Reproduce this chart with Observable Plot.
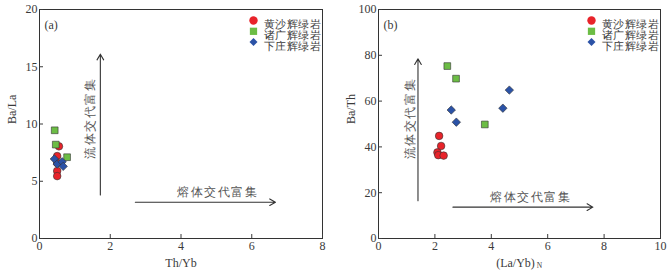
<!DOCTYPE html>
<html><head><meta charset="utf-8">
<script src="https://cdn.jsdelivr.net/npm/d3@7"></script>
<script src="https://cdn.jsdelivr.net/npm/@observablehq/plot@0.6"></script>
<style>
body{margin:0;background:#fff;}
#wrap{display:flex;width:669px;height:275px;}
svg text{font-family:"Liberation Serif",serif;}
</style></head>
<body><div id="wrap"></div>
<script>
// Legend / series names
const seriesNames = ["黄沙辉绿岩", "诸广辉绿岩", "下庄辉绿岩"];
const seriesColors = ["#e8232a", "#6cbd45", "#2b52a6"];
const seriesSymbols = ["circle", "square", "diamond2"];

// Panel (a): Th/Yb vs Ba/La
const aHuangsha = [[0.55, 8.05], [0.5, 7.2], [0.5, 6.6], [0.5, 5.9], [0.5, 5.45]];
const aZhuguang = [[0.43, 9.45], [0.46, 8.2], [0.78, 7.1]];
const aXiazhuang = [[0.42, 6.95], [0.5, 6.5], [0.64, 6.7], [0.67, 6.3]];

// Panel (b): (La/Yb)N vs Ba/Th
const bHuangsha = [[2.15, 44.8], [2.22, 40.4], [2.09, 37.6], [2.12, 36.4], [2.31, 36.2]];
const bZhuguang = [[2.44, 75.3], [2.75, 69.8], [3.77, 49.8]];
const bXiazhuang = [[2.58, 56.1], [2.76, 50.8], [4.41, 56.9], [4.64, 64.8]];

// Ticks
const aXTicks = [0, 2, 4, 6, 8];
const aYTicks = [0, 5, 10, 15, 20];
const bXTicks = [0, 2, 4, 6, 8, 10];
const bYTicks = [0, 20, 40, 60, 80, 100];

// Annotation arrows [x1,y1,x2,y2] and labels
const aArrows = [[1.72, 3.8, 1.72, 16.1], [2.71, 3.17, 6.67, 3.17]];
const aLabels = [{x: 1.44, y: 10.5, text: "流体交代富集", rotate: -90}, {x: 5.04, y: 4.05, text: "熔体交代富集", rotate: 0}];
const bArrows = [[1.4, 16.5, 1.4, 78.5], [2.64, 13.7, 7.6, 13.7]];
const bLabels = [{x: 1.14, y: 52.4, text: "流体交代富集", rotate: -90}, {x: 5.4, y: 18.0, text: "熔体交代富集", rotate: 0}];

const cjk = "'Noto Sans CJK SC', sans-serif";
const ink = "#3a3a3a";

function toRows(groups) {
  const rows = [];
  groups.forEach((g, i) => g.forEach(([x, y]) => rows.push({x, y, s: seriesNames[i]})));
  return rows;
}

function panel({width, ml, mr, xDomain, yDomain, xTicks, yTicks, groups, arrows, labels, tag, ylabel, xlabelMarks}) {
  const rows = toRows(groups);
  const legendMarks = [];
  const legendR = [4.2, 4.1, 3.6];
  seriesNames.forEach((n, i) => {
    legendMarks.push(Plot.dot([n], {frameAnchor: "top-right", dx: -69, dy: 11 + i * 10.8, r: legendR[i], symbol: seriesSymbols[i], fill: seriesColors[i], stroke: "none"}));
    legendMarks.push(Plot.text([n], {text: d => d, frameAnchor: "top-right", dx: -1, dy: 11 + i * 10.8, fontSize: 11, fill: ink, fontFamily: cjk, textAnchor: "end"}));
  });
  const marks = [
    Plot.frame({stroke: "#333", strokeWidth: 1}),
    Plot.axisX({ticks: xTicks, tickSize: -4, tickPadding: 7, fontSize: 12, label: null, color: ink}),
    Plot.axisY({ticks: yTicks, tickSize: -4, tickPadding: 6, fontSize: 12, label: null, color: ink}),
    Plot.text([ylabel], {text: d => d, frameAnchor: "left", dx: -27, rotate: -90, fontSize: 12, fill: ink}),
    ...xlabelMarks,
    Plot.text([tag], {text: d => d, frameAnchor: "top-left", dx: 5, dy: 11, fontSize: 12, fill: ink, textAnchor: "start"}),
    Plot.arrow(arrows, {x1: d => d[0], y1: d => d[1], x2: d => d[2], y2: d => d[3], stroke: "#333", strokeWidth: 1.1, headLength: 9, bend: 0}),
    Plot.text(labels.filter(l => l.rotate === 0), {x: "x", y: "y", text: "text", fontSize: 12, fill: "#555", fontFamily: cjk}),
    Plot.text(labels.filter(l => l.rotate !== 0), {x: "x", y: "y", text: "text", rotate: -90, fontSize: 12, fill: "#555", fontFamily: cjk}),
    Plot.dot(rows, {x: "x", y: "y", symbol: "s", fill: "s", r: 3.8, stroke: "#333", strokeWidth: 0.6}),
    ...legendMarks
  ];
  const svg = Plot.plot({
    width, height: 275,
    marginLeft: ml, marginRight: mr, marginTop: 9, marginBottom: 37,
    x: {domain: xDomain},
    y: {domain: yDomain},
    color: {domain: seriesNames, range: seriesColors},
    symbol: {domain: seriesNames, range: seriesSymbols},
    style: {fontFamily: "'Liberation Serif', serif", background: "white"},
    marks
  });
  // letter spacing for the Chinese text (CJK glyphs)
  d3.select(svg).selectAll("text").filter(function () { return /[\u4e00-\u9fff]/.test(this.textContent); })
    .each(function () {
      const isLegend = seriesNames.includes(this.textContent);
      this.style.letterSpacing = isLegend ? "0.6px" : "1.6px";
    });
  return svg;
}

const wrap = document.getElementById("wrap");
wrap.append(panel({
  width: 335, ml: 39, mr: 13, xDomain: [0, 8], yDomain: [0, 20],
  xTicks: aXTicks, yTicks: aYTicks,
  groups: [aHuangsha, aZhuguang, aXiazhuang], arrows: aArrows, labels: aLabels,
  tag: "(a)", ylabel: "Ba/La",
  xlabelMarks: [Plot.text(["Th/Yb"], {text: d => d, frameAnchor: "bottom", dy: 28, fontSize: 12, fill: ink})]
}));
wrap.append(panel({
  width: 334, ml: 43, mr: 9, xDomain: [0, 10], yDomain: [0, 100],
  xTicks: bXTicks, yTicks: bYTicks,
  groups: [bHuangsha, bZhuguang, bXiazhuang], arrows: bArrows, labels: bLabels,
  tag: "(b)", ylabel: "Ba/Th",
  xlabelMarks: [
    Plot.text(["(La/Yb)"], {text: d => d, frameAnchor: "bottom", dx: -4, dy: 28, fontSize: 12, fill: ink}),
    Plot.text(["N"], {text: d => d, frameAnchor: "bottom", dx: 20, dy: 29.5, fontSize: 7.5, fill: ink})
  ]
}));
</script></body></html>
